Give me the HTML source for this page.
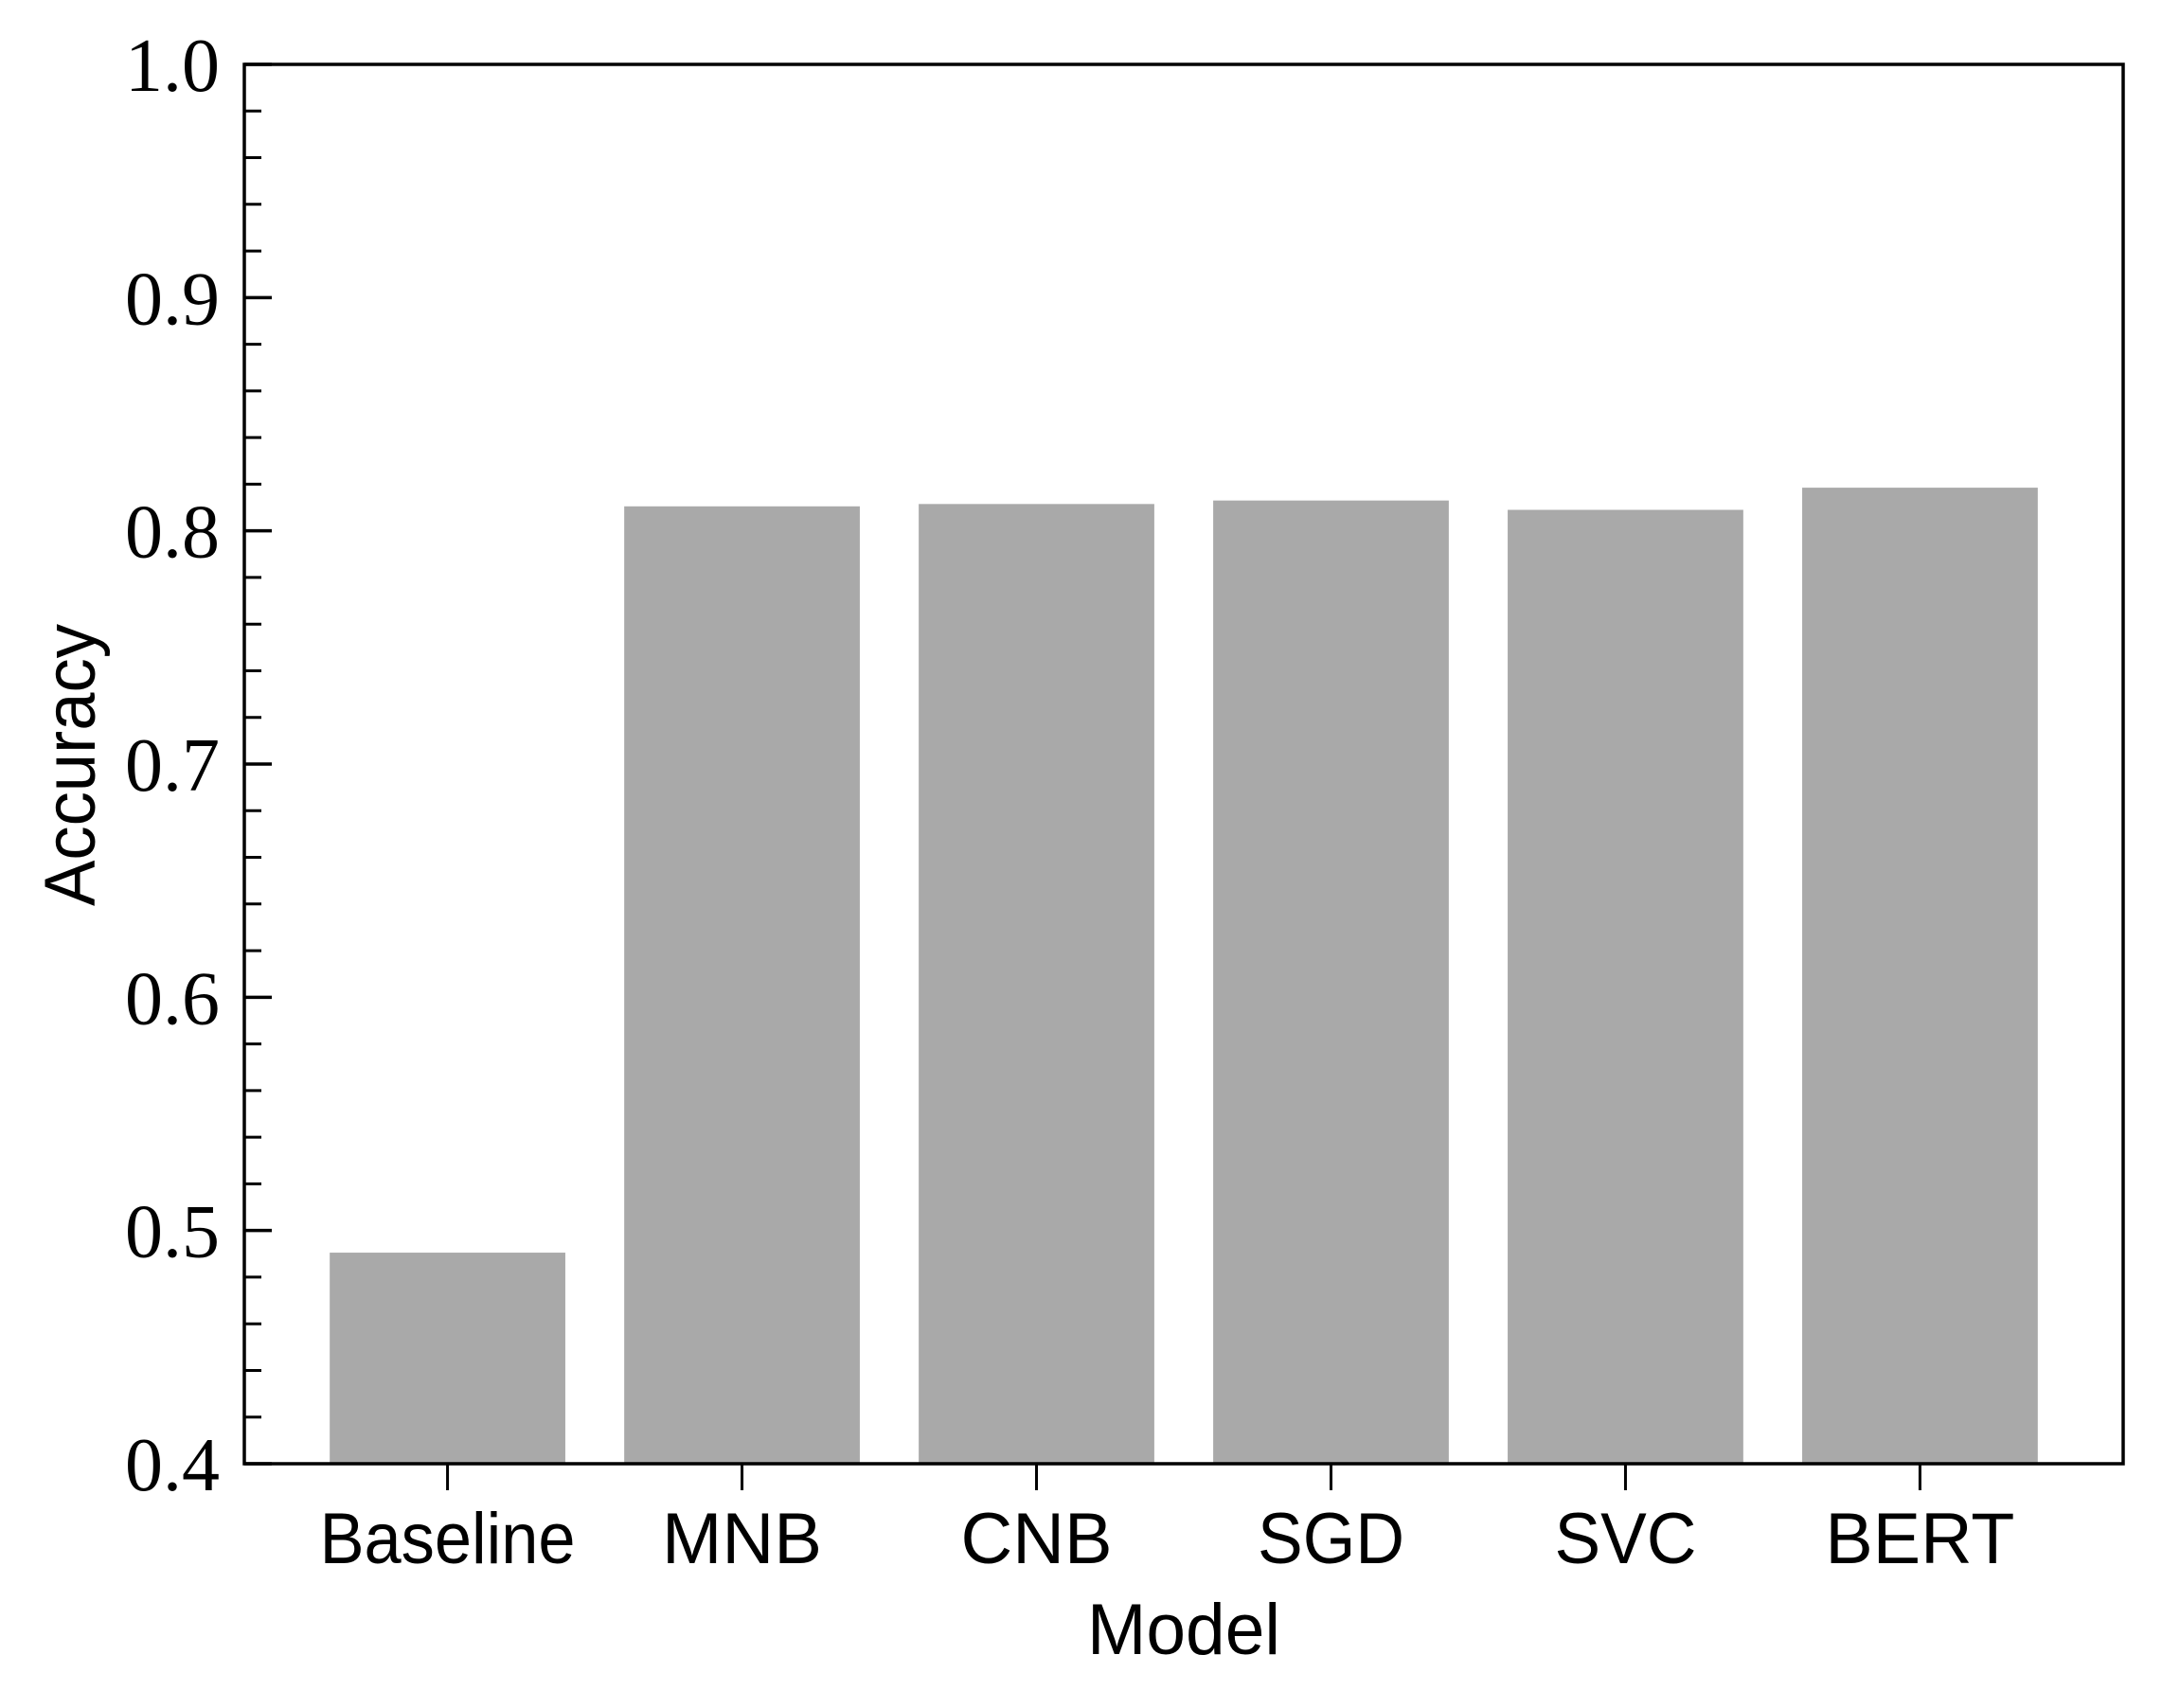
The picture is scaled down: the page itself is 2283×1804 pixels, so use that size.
<!DOCTYPE html>
<html><head><meta charset="utf-8"><style>
html,body{margin:0;padding:0;background:#fff;}
svg{display:block;}
.yt{font-family:"Liberation Serif",serif;font-size:80px;fill:#000;}
.xt{font-family:"Liberation Sans",sans-serif;font-size:76px;fill:#000;}
</style></head><body>
<svg id="chart" width="2283" height="1804" viewBox="0 0 2283 1804" xmlns="http://www.w3.org/2000/svg">
<rect width="2283" height="1804" fill="#fff"/>
<g id="bars"></g>
<g id="axes"></g>
</svg>
<script>
const categories = ["Baseline","MNB","CNB","SGD","SVC","BERT"];
const accuracy = [0.4905, 0.8105, 0.8115, 0.813, 0.809, 0.8185];
const yTicks = [0.4,0.5,0.6,0.7,0.8,0.9,1.0];
const yTickLabels = ["0.4","0.5","0.6","0.7","0.8","0.9","1.0"];
const labelWidths = [270,169,160,155,150,200];

const L=258,R=2242,T=68,B=1546;
const xMin=-0.69,xMax=5.69,yMin=0.4,yMax=1.0;
const xs=v=>L+(v-xMin)/(xMax-xMin)*(R-L);
const ys=v=>B-(v-yMin)/(yMax-yMin)*(B-T);
const NS="http://www.w3.org/2000/svg";
function mk(tag,attrs,parent){const e=document.createElementNS(NS,tag);for(const k in attrs)e.setAttribute(k,attrs[k]);parent.appendChild(e);return e;}
const bars=document.getElementById('bars'), axes=document.getElementById('axes');
const bw=0.8;
categories.forEach((c,i)=>{
  const x0=xs(i-bw/2), x1=xs(i+bw/2), yt=ys(accuracy[i]);
  const r=mk('rect',{x:x0,y:yt,width:x1-x0,height:B-yt,fill:'#a9a9a9'},bars);
  
  
  const t=mk('line',{x1:xs(i),x2:xs(i),y1:B,y2:B+28,stroke:'#000','stroke-width':3},axes);
  
  
  const lb=mk('text',{x:xs(i),y:1651,'text-anchor':'middle','class':'xt',textLength:labelWidths[i],lengthAdjust:'spacingAndGlyphs'},axes);
  lb.textContent=c;
  
  
});
// minor ticks
for(let k=0;k<=30;k++){
  const v=yMin+k*0.02;
  if(k%5===0)continue;
  const m=mk('line',{x1:L,x2:L+18,y1:ys(v),y2:ys(v),stroke:'#000','stroke-width':3},axes);
  
  
}
yTicks.forEach((v,i)=>{
  const t=mk('line',{x1:L,x2:L+29,y1:ys(v),y2:ys(v),stroke:'#000','stroke-width':3.5},axes);
  
  
  const lb=mk('text',{x:232,y:ys(v)+28,'text-anchor':'end','class':'yt'},axes);
  lb.textContent=yTickLabels[i];
  
  
});
const frame=mk('rect',{x:L,y:T,width:R-L,height:B-T,fill:'none',stroke:'#000','stroke-width':3.5},axes);


const xt=mk('text',{x:1250,y:1747,'text-anchor':'middle','class':'xt',textLength:204,lengthAdjust:'spacingAndGlyphs'},axes);
xt.textContent='Model';


const yt=mk('text',{x:0,y:0,'text-anchor':'middle','class':'xt',transform:'translate(100,808) rotate(-90)',textLength:298,lengthAdjust:'spacingAndGlyphs'},axes);
yt.textContent='Accuracy';


</script>
</body></html>
